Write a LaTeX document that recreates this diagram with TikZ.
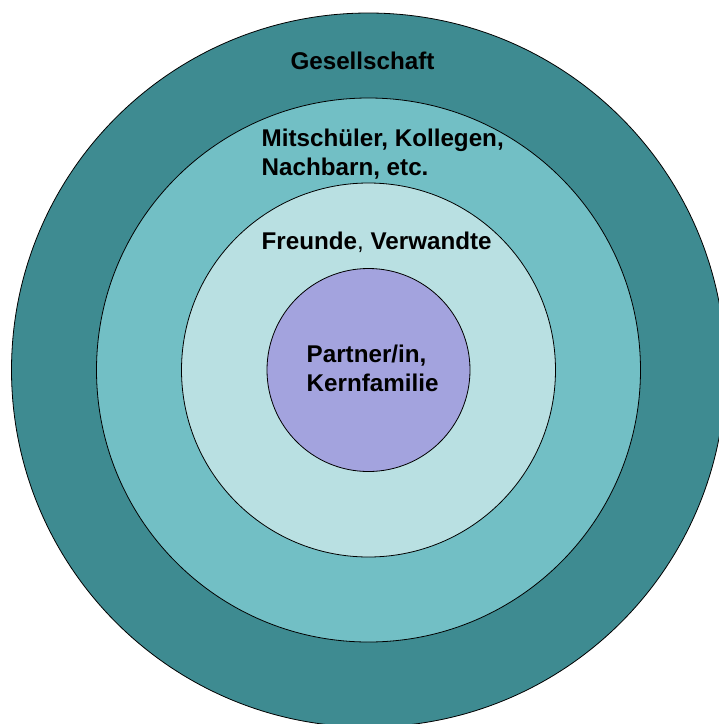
\documentclass[tikz,border=0pt]{standalone}
\usepackage{fontspec}
\setmainfont{Liberation Sans}
\definecolor{ringA}{HTML}{3E8B91}
\definecolor{ringB}{HTML}{72BFC5}
\definecolor{ringC}{HTML}{B9E0E2}
\definecolor{ringD}{HTML}{A3A3DE}
\begin{document}
\begin{tikzpicture}[x=1pt,y=-1pt,
  ring/.style={circle,draw=black,line width=0.8pt,inner sep=0pt},
  lbl/.style={inner sep=0pt,align=left,font=\bfseries\fontsize{24.2}{29}\selectfont}]
\useasboundingbox (0,0) rectangle (719,724);
\begin{scope}
\clip (0,0) rectangle (719,724);
\node[ring,fill=ringA,minimum size=714pt] (gesell) at (368.5,370) {};
\node[ring,fill=ringB,minimum size=544pt] (mitsch) at (368.5,370) {};
\node[ring,fill=ringC,minimum size=374pt] (freunde) at (368.5,370) {};
\node[ring,fill=ringD,minimum size=203pt] (partner) at (368.5,370) {};
\end{scope}
\node[lbl,anchor=base] (tG) at (362.5,69) {Gesellschaft};
\node[lbl,anchor=north west] (tM) at (261.5,128.5) {Mitschüler, Kollegen,\\Nachbarn, etc.};
\node[lbl,anchor=base west] (tF) at (261.5,249) {Freunde{\mdseries,} Verwandte};
\node[lbl,anchor=north west] (tP) at (306.5,344.5) {Partner/in,\\Kernfamilie};
\end{tikzpicture}
\end{document}
